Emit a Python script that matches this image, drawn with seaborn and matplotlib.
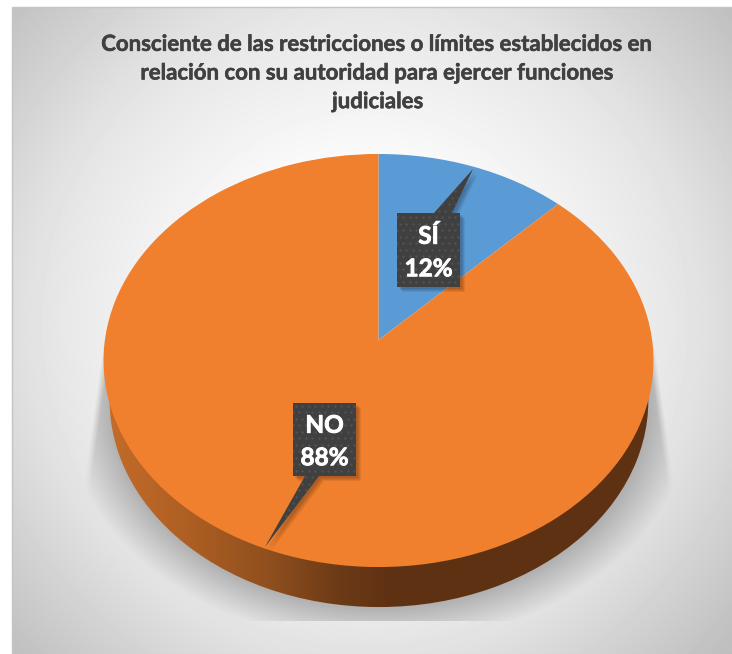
# -*- coding: utf-8 -*-
"""
3D looking pie: autoridad para ejercer funciones judiciales
"""
import numpy as np
import matplotlib
matplotlib.use('Agg')
import matplotlib.pyplot as plt
import matplotlib.patheffects as pe
import matplotlib.transforms as mtransforms
from matplotlib.colors import LinearSegmentedColormap
from matplotlib.patches import Polygon
import seaborn as sns

#data
categories = ['SÍ', 'NO']
values = [12.4, 87.6]
slice_colors = ['#5B9BD5', '#F07F2E']
title = ('Consciente de las restricciones o límites establecidos en\n'
         'relación con su autoridad para ejercer funciones\n'
         'judiciales')

sns.set_theme(style='white')
plt.rcParams['font.family'] = ['Lato', 'DejaVu Sans']

W, H = 732, 654


class Tilt(mtransforms.Transform):
    # unit circle of the pie -> tilted disc, in pixels of the picture
    input_dims = 2
    output_dims = 2

    def __init__(self, a, b, k, x0, y0):
        super().__init__()
        self.a, self.b, self.k, self.x0, self.y0 = a, b, k, x0, y0

    def transform_non_affine(self, xy):
        xy = np.asarray(xy, dtype=float)
        w = 1 + self.k * xy[:, 1]
        return np.column_stack((self.x0 + self.a * xy[:, 0] / w,
                                self.y0 - self.b * xy[:, 1] / w))


fig = plt.figure(figsize=(W / 100, H / 100), dpi=100)
ax = fig.add_axes([0, 0, 1, 1])

#background and shadow
xx, yy = np.meshgrid(np.arange(12, W) + 0.5, np.arange(7, H) + 0.5)
r = np.hypot(xx - 365, yy - 323)
bg = np.interp(r, [0, 150, 300, 340, 480, 520], [255, 252, 232, 225, 192, 186])

rho = np.hypot((xx - 379) / 268, (yy - 400) / 207)
dist = (rho - 1) * 240
shade = np.clip(1 - dist / 44, 0, 1) * 0.25
left_edge = 104 - (yy - 340) * 19 / 135
right_edge = 654 + (yy - 340) * 19 / 135
soft = np.clip((xx - left_edge) / 7, 0, 1) * np.clip((right_edge - xx) / 7, 0, 1)
in_zone = (yy > 340) & (yy < 621)
bg = bg * (1 - shade * soft * in_zone)
ax.imshow(bg, cmap='gray', vmin=0, vmax=255, extent=(12, W, H, 7),
          aspect='auto', zorder=0)
ax.plot([12, W], [7, 7], color='#c4c4c4', lw=1, zorder=1)
ax.plot([12, 12], [7, H], color='#c4c4c4', lw=1, zorder=1)

#side wall of the disc
wall, _ = ax.pie([sum(values)], colors=['none'], radius=1)
wall[0].set_transform(Tilt(268, 204.5, 0.0993, 379, 380) + ax.transData)
wall[0].set_visible(False)
wall_cmap = LinearSegmentedColormap.from_list(
    'wall', [(0.0, '#C46C2A'), (0.15, '#AE5F23'), (0.3, '#8F4F1E'),
             (0.42, '#6E3B17'), (0.52, '#5F3113'), (1.0, '#5F3113')])
ramp = np.linspace(0, 1, 550).reshape(1, -1)
im = ax.imshow(ramp, cmap=wall_cmap, extent=(104, 654, 640, 340),
               aspect='auto', zorder=2)
im.set_clip_path(wall[0])

#top face
wedges, _ = ax.pie(values, colors=slice_colors, startangle=90, counterclock=False,
                   wedgeprops={'linewidth': 0})
for wedge in wedges:
    wedge.set_transform(Tilt(273.6, 204.5, 0.0993, 378.5, 340) + ax.transData)
    wedge.set_zorder(3)

#callouts
label_text = [f'{c}\n{v:.0f}%' for c, v in zip(categories, values)]
callouts = [
    [(397, 213), (434, 213), (473, 169), (452, 213), (460, 213), (460, 287), (397, 287)],
    [(293, 403), (356, 403), (356, 476), (319, 476), (265, 547), (305, 476), (293, 476)],
]
text_pos = [(428.5, 252.5), (324.5, 441.5)]
for pts, txt, pos in zip(callouts, label_text, text_pos):
    pts = np.array(pts, dtype=float)
    for off in [5, 4, 3, 2]:
        ax.add_patch(Polygon(pts + off, closed=True, fc='black', ec='none',
                             alpha=0.07, zorder=4))
    box = Polygon(pts, closed=True, fc='#404040', ec='none', zorder=5)
    ax.add_patch(box)
    gx, gy = np.meshgrid(np.arange(260, 480, 6.5), np.arange(165, 550, 6.5))
    gx = gx + (np.round((gy - 165) / 6.5) % 2) * 3.25
    dots = ax.scatter(gx.ravel(), gy.ravel(), s=3, color='#525252', linewidths=0, zorder=6)
    dots.set_clip_path(box)
    ax.text(pos[0], pos[1], txt, color='white', fontsize=17.5, fontweight='bold',
            ha='center', va='center', linespacing=1.5, zorder=7,
            path_effects=[pe.withStroke(linewidth=0.6, foreground='white')])

ax.text(378, 73, title, color='#404040', fontsize=16, fontweight='bold',
        ha='center', va='center', linespacing=1.45, zorder=7,
        path_effects=[pe.withStroke(linewidth=0.4, foreground='#404040')])

ax.set_aspect('auto')
ax.set_xlim(0, W)
ax.set_ylim(H, 0)
ax.axis('off')
fig.savefig('out.png', dpi=100, facecolor='white')
